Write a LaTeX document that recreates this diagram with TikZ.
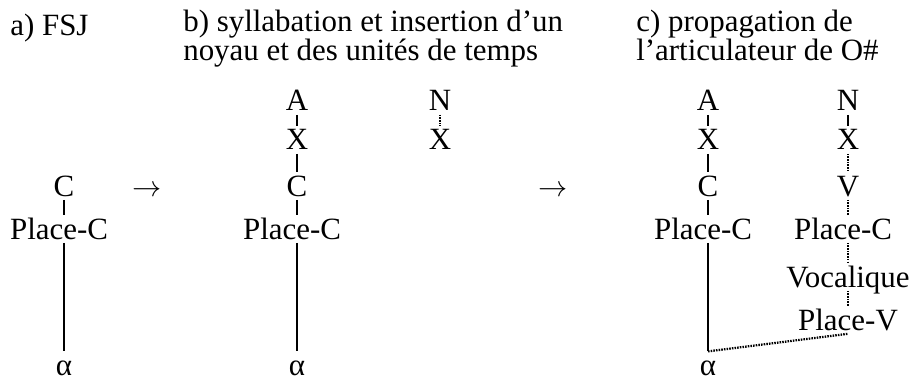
\documentclass[tikz,border=0pt]{standalone}
\usepackage{fontspec}
\setmainfont{Liberation Serif}
\usetikzlibrary{positioning}

\begin{document}
\begin{tikzpicture}[
  x=0.025cm, y=0.025cm,
  seg/.style={anchor=base, inner sep=1pt, text height=15.6pt,
    text depth=1.5pt, font=\fontsize{22}{18}\selectfont},
  pc/.style={seg, xshift=-3.5pt},
  ttl/.style={anchor=base west, align=left, inner sep=0pt,
    font=\fontsize{22}{18.2}\selectfont},
  assoc/.style={line width=1.4pt},
  spread/.style={line width=1.6pt, dash pattern=on 1.1pt off 0.8pt}
]
  \useasboundingbox (0,0) rectangle (912,-380);

  % titles
  \node[ttl] (ta) at (10,-36) {a) FSJ};
  \node[ttl] (tb) at (183,-61) {b) syllabation et insertion d’un\\noyau et des unités de temps};
  \node[ttl] (tc) at (636,-61) {c) propagation de\\l’articulateur de O\#};

  % a)
  \node[seg] (aC) at (64,-196) {C};
  \node[pc] (aPC) at (64,-239) {Place-C};
  \node[seg] (aAlpha) at (64,-375) {α};
  \draw[assoc] (aC) -- (aPC.north -| aC);
  \draw[assoc] (aPC.south -| aC) -- (aAlpha);

  \node[seg] (arrAB) at (147,-196) {$\rightarrow$};

  % b)
  \node[seg] (bA) at (297,-111) {A};
  \node[seg] (bX) at (297,-150) {X};
  \node[seg] (bC) at (297,-196) {C};
  \node[pc] (bPC) at (297,-239) {Place-C};
  \node[seg] (bAlpha) at (297,-375) {α};
  \draw[assoc] (bA) -- (bX);
  \draw[assoc] (bX) -- (bC);
  \draw[assoc] (bC) -- (bPC.north -| bC);
  \draw[assoc] (bPC.south -| bC) -- (bAlpha);

  \node[seg] (bN) at (440,-111) {N};
  \node[seg] (bXn) at (440,-150) {X};
  \draw[spread] (bN) -- (bXn);

  \node[seg] (arrBC) at (553,-196) {$\rightarrow$};

  % c)
  \node[seg] (cA) at (708,-111) {A};
  \node[seg] (cX) at (708,-150) {X};
  \node[seg] (cC) at (708,-196) {C};
  \node[pc] (cPC) at (708,-239) {Place-C};
  \node[seg] (cAlpha) at (708,-375) {α};
  \draw[assoc] (cA) -- (cX);
  \draw[assoc] (cX) -- (cC);
  \draw[assoc] (cC) -- (cPC.north -| cC);
  \draw[assoc] (cPC.south -| cC) -- (cAlpha);

  \node[seg] (cN) at (848,-111) {N};
  \node[seg] (cXn) at (848,-150) {X};
  \node[seg] (cV) at (848,-196) {V};
  \node[pc] (cPCv) at (848,-239) {Place-C};
  \node[seg] (cVoc) at (848,-287) {Vocalique};
  \node[seg] (cPV) at (848,-330) {Place-V};
  \draw[assoc] (cN) -- (cXn);
  \draw[spread] (cXn) -- (cV);
  \draw[spread] (cV) -- (cPCv.north -| cV);
  \draw[spread] (cPCv.south -| cV) -- (cVoc);
  \draw[spread] (cVoc) -- (cPV);
  \draw[spread] (cAlpha.north) -- (cPV.south);
\end{tikzpicture}
\end{document}
